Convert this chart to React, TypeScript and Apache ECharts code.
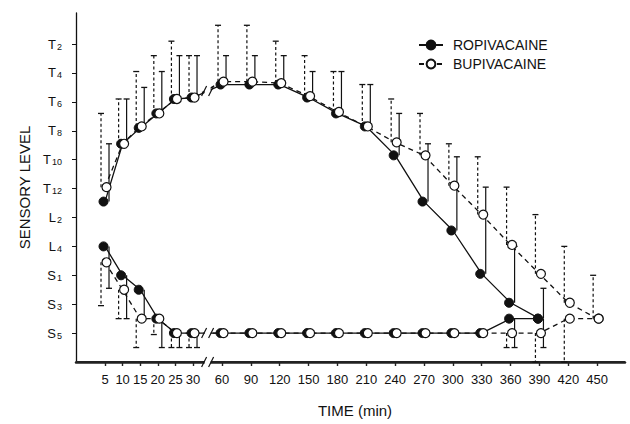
import React, { useEffect, useRef } from "react";
import * as echarts from "echarts";

// ---- data ----
const times = [5, 10, 15, 20, 25, 30, 60, 90, 120, 150, 180, 210, 240, 270, 300, 330, 360, 390, 420, 450];
const levelTicks = [2, 4, 6, 8, 10, 12, 14, 16, 18, 20, 22];
const levelLabels = ["T2", "T4", "T6", "T8", "T10", "T12", "L2", "L4", "S1", "S3", "S5"];

// upper (cephalad) spread: mean and upper end of SD bar
const ropiUpper = [12.9, 8.9, 7.8, 6.8, 5.8, 5.7, 4.8, 4.8, 4.8, 5.7, 6.8, 7.7, 9.7, 12.9, 14.9, 17.9, 19.9, 21.0];
const ropiUpperBar = [8.9, 5.8, 5.0, 3.9, 2.8, 2.8, 2.8, 2.8, 2.8, 3.9, 3.9, 4.8, 6.8, 8.9, 9.8, 11.9, 16.0, 18.9];
const bupiUpper = [11.9, 8.9, 7.7, 6.8, 5.8, 5.7, 4.6, 4.6, 4.7, 5.6, 6.7, 7.7, 8.8, 9.7, 11.8, 13.8, 15.9, 17.9, 19.9, 21.0];
const bupiUpperBar = [6.8, 5.8, 3.9, 2.8, 1.8, 2.8, 0.7, 0.7, 1.8, 2.8, 3.9, 4.8, 5.8, 6.8, 8.9, 9.8, 11.9, 13.8, 16.0, 18.0];

// lower (caudal) spread: mean and lower end of SD bar
const ropiLower = [16.0, 18.0, 19.0, 21.0, 22, 22, 22, 22, 22, 22, 22, 22, 22, 22, 22, 22, 21.0, 21.0];
const ropiLowerBar = [18.9, 21.0, 21.0, 23.0, 23.0, 23.0, null, null, null, null, null, null, null, null, null, null, 23.0, 23.0];
const bupiLower = [17.1, 19.0, 21.0, 21.0, 22, 22, 22, 22, 22, 22, 22, 22, 22, 22, 22, 22, 22, 22, 21.0, 21.0];
const bupiLowerBar = [20.1, 21.0, 23.0, 22.1, 23.0, 23.0, null, null, null, null, null, null, null, null, null, null, 23.0, 24.0, 24.0, null];

// ---- broken time axis: 5-min scale up to 30, 30-min scale from 60 ----
const EARLY_END = 30;
const LATE_START = 60;
const GAP_UNITS = 8.24;
const LATE_SCALE = 0.2732;
const pos = (t: number) => (t <= EARLY_END ? t : EARLY_END + GAP_UNITS + (t - LATE_START) * LATE_SCALE);
const xTicks = times.map(pos);
const X_MIN = -3.24;
const X_MAX = 152.7;
const Y_MIN = -0.15;
const Y_MAX = 24;

const INK = "#111";
const FONT = "'Liberation Sans', Arial, Helvetica, sans-serif";

const linePoints = (vals: number[]) => vals.map((v, i) => [pos(times[i]), v]);
const barRows = (vals: number[], ends: (number | null)[]) =>
  vals
    .map((c, i) => [pos(times[i]), c, ends[i]])
    .filter((r) => r[2] !== null && Math.abs((r[2] as number) - (r[1] as number)) > 0.05);

function makeBarSeries(name: string, rows: any[], dx: number, dashed: boolean) {
  return {
    type: "custom",
    name,
    silent: true,
    z: 2,
    clip: false,
    encode: { x: 0, y: [1, 2] },
    data: rows,
    renderItem: (params: any, api: any) => {
      const x = api.value(0);
      const p1 = api.coord([x, api.value(1)]);
      const p2 = api.coord([x, api.value(2)]);
      const cx = p1[0] + dx;
      return {
        type: "group",
        children: [
          {
            type: "line",
            shape: { x1: cx, y1: p1[1], x2: cx, y2: p2[1] },
            style: { stroke: INK, lineWidth: 1.2, lineDash: dashed ? [3, 2.5] : null },
          },
          {
            type: "line",
            shape: { x1: cx - 3, y1: p2[1], x2: cx + 3, y2: p2[1] },
            style: { stroke: INK, lineWidth: 1.3 },
          },
        ],
      };
    },
  };
}

export default function App() {
  const ref = useRef<HTMLDivElement>(null);
  useEffect(() => {
    if (!ref.current) return;
    const chart = echarts.init(ref.current, null, { renderer: "svg" });

    const breakX = pos((EARLY_END + LATE_START) / 2);
    const breakRows = [
      [breakX, (ropiUpper[5] + ropiUpper[6]) / 2],
      [breakX, (ropiLower[5] + ropiLower[6]) / 2],
      [breakX, Y_MAX],
    ];

    const ropiLine = {
      type: "line",
      name: "ROPIVACAINE",
      symbol: "circle",
      symbolSize: 9,
      symbolOffset: [-1.5, 0],
      z: 3,
      silent: true,
      itemStyle: { color: INK, borderColor: INK, borderWidth: 1 },
      lineStyle: { color: INK, width: 1.3 },
    };
    const bupiLine = {
      type: "line",
      name: "BUPIVACAINE",
      symbol: "circle",
      symbolSize: 9,
      symbolOffset: [1.5, 0],
      z: 4,
      silent: true,
      itemStyle: { color: "#fff", borderColor: INK, borderWidth: 1.2 },
      lineStyle: { color: INK, width: 1.3, type: [5, 4] },
    };

    chart.setOption({
      animation: false,
      backgroundColor: "#fff",
      textStyle: { fontFamily: FONT, color: INK },
      grid: { left: 76, right: 5, top: 13, bottom: 62, containLabel: false },
      legend: {
        orient: "vertical",
        left: 413,
        top: 33,
        itemWidth: 24,
        itemHeight: 11,
        itemGap: 5,
        selectedMode: false,
        data: ["ROPIVACAINE", "BUPIVACAINE"],
        textStyle: { fontSize: 14, color: INK, fontFamily: FONT, padding: [0, 0, 0, 5] },
      },
      xAxis: {
        type: "value",
        position: "bottom",
        min: X_MIN,
        max: X_MAX,
        name: "TIME (min)",
        nameLocation: "middle",
        nameGap: 41,
        nameTextStyle: { fontSize: 15, color: INK, fontFamily: FONT, padding: [0, 0, 0, 9] },
        axisLine: { show: true, onZero: false, lineStyle: { color: "#222", width: 2.5 } },
        axisTick: { show: true, customValues: xTicks, length: 4, lineStyle: { color: "#222", width: 1.4 } },
        axisLabel: {
          customValues: xTicks,
          margin: 11,
          fontSize: 13,
          color: INK,
          fontFamily: FONT,
          formatter: (v: number) => {
            const i = xTicks.findIndex((p) => Math.abs(p - v) < 1e-3);
            return i >= 0 ? String(times[i]) : "";
          },
        },
        splitLine: { show: false },
      },
      yAxis: {
        type: "value",
        position: "left",
        inverse: true,
        min: Y_MIN,
        max: Y_MAX,
        name: "SENSORY LEVEL",
        nameLocation: "middle",
        nameRotate: 90,
        nameGap: 38,
        nameTextStyle: { fontSize: 15, color: INK, fontFamily: FONT },
        axisLine: { show: true, onZero: false, lineStyle: { color: INK, width: 1.3 } },
        axisTick: { show: true, customValues: levelTicks, length: 4, lineStyle: { color: INK, width: 1 } },
        axisLabel: {
          customValues: levelTicks,
          margin: 14,
          color: INK,
          fontFamily: FONT,
          formatter: (v: number) => {
            const i = levelTicks.indexOf(Math.round(v));
            if (i < 0) return "";
            const lab = levelLabels[i];
            return `{m|${lab.charAt(0)}}{s|${lab.slice(1)}}`;
          },
          rich: {
            m: { fontSize: 13, lineHeight: 14, color: INK, fontFamily: FONT },
            s: { fontSize: 9, lineHeight: 9, color: INK, fontFamily: FONT, verticalAlign: "bottom", padding: [0, 0, 0, 1] },
          },
        },
        splitLine: { show: false },
      },
      series: [
        {
          type: "custom",
          name: "time-axis-band",
          silent: true,
          z: 1,
          clip: false,
          encode: { x: 0, y: 1 },
          data: [[X_MIN, Y_MAX]],
          renderItem: (params: any, api: any) => {
            const a = api.coord([X_MIN, Y_MAX]);
            const b = api.coord([X_MAX, Y_MAX]);
            return {
              type: "rect",
              shape: { x: a[0], y: a[1] - 1, width: b[0] - a[0], height: 2 },
              style: { fill: "#222" },
            };
          },
        },
        makeBarSeries("ropi-bars", [...barRows(ropiUpper, ropiUpperBar), ...barRows(ropiLower, ropiLowerBar)], 4, false),
        makeBarSeries("bupi-bars", [...barRows(bupiUpper, bupiUpperBar), ...barRows(bupiLower, bupiLowerBar)], -4, true),
        { ...ropiLine, data: linePoints(ropiUpper) },
        { ...ropiLine, data: linePoints(ropiLower) },
        { ...bupiLine, data: linePoints(bupiUpper) },
        { ...bupiLine, data: linePoints(bupiLower) },
        {
          type: "custom",
          name: "breaks",
          silent: true,
          z: 6,
          clip: false,
          encode: { x: 0, y: 1 },
          data: breakRows,
          renderItem: (params: any, api: any) => {
            const p = api.coord([api.value(0), api.value(1)]);
            return {
              type: "group",
              children: [
                { type: "rect", shape: { x: p[0] - 3, y: p[1] - 4, width: 6, height: 8 }, style: { fill: "#fff" } },
                { type: "line", shape: { x1: p[0] - 6, y1: p[1] + 5, x2: p[0] - 1, y2: p[1] - 5 }, style: { stroke: INK, lineWidth: 1.2 } },
                { type: "line", shape: { x1: p[0] + 1, y1: p[1] + 5, x2: p[0] + 6, y2: p[1] - 5 }, style: { stroke: INK, lineWidth: 1.2 } },
              ],
            };
          },
        },
      ],
    });
    return () => chart.dispose();
  }, []);
  return <div ref={ref} style={{ position: "absolute", left: 0, top: 0, width: 630, height: 424, background: "#fff" }} />;
}
